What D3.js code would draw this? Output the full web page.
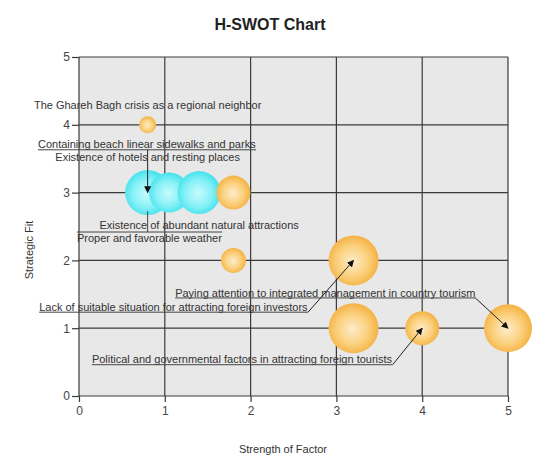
<!DOCTYPE html>
<html>
<head>
<meta charset="utf-8">
<script src="https://cdn.jsdelivr.net/npm/d3@7"></script>
<style>
  body { margin: 0; background: #fff; }
  text { font-family: "Liberation Sans", Arial, sans-serif; }
</style>
</head>
<body>
<div id="chart-area"></div>
<script>
// bubbles: strength of factor (x), strategic fit (y), bubble size, group
const strength = [0.8, 0.8, 1.05, 1.4, 1.8, 1.8, 3.2, 3.2, 4, 5]
const fit = [4, 3, 3, 3, 3, 2, 2, 1, 1, 1]
const bubbleSize = [1.7, 4.5, 4, 4.3, 3.4, 2.5, 5, 5, 3.4, 4.8]
const group = ["O", "S", "S", "S", "O", "O", "O", "O", "O", "O"]

// callout labels and the bubble each one points to
const labels = [
  "The Ghareh Bagh crisis as a regional neighbor",
  "Containing beach linear sidewalks and parks",
  "Existence of hotels and resting places",
  "Existence of abundant natural attractions",
  "Proper and favorable weather",
  "Paying attention to integrated management in country tourism",
  "Lack of suitable situation for attracting foreign investors",
  "Political and governmental factors in attracting foreign tourists"
]
const labelTarget = [0, 1, 1, 2, 1, 9, 6, 8]

const xTicks = [0, 1, 2, 3, 4, 5]
const yTicks = [0, 1, 2, 3, 4, 5]

// label layout (text centre in data units, underline offset in px, leader kind)
const labelPos = [
  { x: 0.80, y: 4.29, ul: null, lead: null },
  { x: 0.79, y: 3.72, ul: 6, lead: "down" },
  { x: 0.80, y: 3.53, ul: null, lead: null },
  { x: 1.40, y: 2.52, ul: null, lead: null },
  { x: 0.82, y: 2.33, ul: -6, lead: "up" },
  { x: 2.87, y: 1.52, ul: 5, lead: "right" },
  { x: 1.10, y: 1.31, ul: 5, lead: "right" },
  { x: 1.90, y: 0.55, ul: 6, lead: "right" }
]

const MARGIN = { LEFT: 79, RIGHT: 42, TOP: 57, BOTTOM: 66 }
const WIDTH = 550 - MARGIN.LEFT - MARGIN.RIGHT
const HEIGHT = 462 - MARGIN.TOP - MARGIN.BOTTOM

const svg = d3.select("#chart-area").append("svg")
  .attr("width", 550)
  .attr("height", 462)

const defs = svg.append("defs")
const grads = { O: ["#fdeccb", "#fbd07c", "#f4b244"], S: ["#c8fbfd", "#86f1f6", "#45e2ec"] }
Object.keys(grads).forEach(k => {
  const gr = defs.append("radialGradient").attr("id", "grad" + k)
    .attr("cx", "48%").attr("cy", "52%").attr("r", "52%")
  gr.append("stop").attr("offset", "0%").attr("stop-color", grads[k][0])
  gr.append("stop").attr("offset", "60%").attr("stop-color", grads[k][1])
  gr.append("stop").attr("offset", "100%").attr("stop-color", grads[k][2])
})
defs.append("marker").attr("id", "arrow")
  .attr("viewBox", "0 0 10 10").attr("refX", 9).attr("refY", 5)
  .attr("markerWidth", 7).attr("markerHeight", 7)
  .attr("markerUnits", "userSpaceOnUse")
  .attr("orient", "auto")
  .append("path").attr("d", "M0,0 L10,5 L0,10 Z").attr("fill", "#111")

// title
svg.append("text")
  .attr("x", 270).attr("y", 30)
  .attr("text-anchor", "middle")
  .attr("font-size", "16px").attr("font-weight", "bold")
  .attr("fill", "#222")
  .text("H-SWOT Chart")

const g = svg.append("g")
  .attr("transform", `translate(${MARGIN.LEFT}, ${MARGIN.TOP})`)

const x = d3.scaleLinear().domain([0, 5]).range([0, WIDTH])
const y = d3.scaleLinear().domain([0, 5]).range([HEIGHT, 0])
const r = d3.scaleLinear().domain([0, 5]).range([0, 25])

g.append("rect")
  .attr("width", WIDTH).attr("height", HEIGHT)
  .attr("fill", "#e8e8e8")

// grid
g.selectAll(".vgrid").data(xTicks).enter().append("line")
  .attr("x1", d => x(d)).attr("x2", d => x(d))
  .attr("y1", 0).attr("y2", HEIGHT)
  .attr("stroke", "#3a3a3a").attr("stroke-width", 1.2)
g.selectAll(".hgrid").data(yTicks).enter().append("line")
  .attr("y1", d => y(d)).attr("y2", d => y(d))
  .attr("x1", 0).attr("x2", WIDTH)
  .attr("stroke", "#3a3a3a").attr("stroke-width", 1.2)

// axes
const xAxisCall = d3.axisBottom(x).tickValues(xTicks).tickFormat(d3.format("d"))
  .tickSize(6).tickPadding(4)
const xAxisGroup = g.append("g")
  .attr("transform", `translate(0, ${HEIGHT})`)
  .call(xAxisCall)
const yAxisCall = d3.axisLeft(y).tickValues(yTicks).tickFormat(d3.format("d"))
  .tickSize(7).tickPadding(2)
const yAxisGroup = g.append("g").call(yAxisCall)
;[xAxisGroup, yAxisGroup].forEach(a => {
  a.select(".domain").remove()
  a.selectAll("line").attr("stroke", "#3a3a3a").attr("stroke-width", 1.2)
  a.selectAll("text").attr("font-size", "12px").attr("fill", "#444")
    .attr("font-family", "'Liberation Sans', Arial, sans-serif")
})

// axis labels
svg.append("text")
  .attr("x", 283).attr("y", 453)
  .attr("text-anchor", "middle")
  .attr("font-size", "11px").attr("fill", "#333")
  .text("Strength of Factor")
svg.append("text")
  .attr("transform", "translate(33, 250) rotate(-90)")
  .attr("text-anchor", "middle")
  .attr("font-size", "11px").attr("fill", "#333")
  .text("Strategic Fit")

// bubbles
const bubbles = strength.map((s, i) => ({ s, f: fit[i], size: bubbleSize[i], grp: group[i] }))
g.selectAll("circle.bubble").data(bubbles).enter().append("circle")
  .attr("class", "bubble")
  .attr("cx", d => x(d.s))
  .attr("cy", d => y(d.f))
  .attr("r", d => r(d.size))
  .attr("fill", d => `url(#grad${d.grp})`)

// callout labels
labels.forEach((txt, i) => {
  const p = labelPos[i]
  const t = bubbles[labelTarget[i]]
  const tx = x(t.s), ty = y(t.f)
  const lab = g.append("text")
    .attr("x", x(p.x)).attr("y", y(p.y))
    .attr("dy", "0.35em")
    .attr("text-anchor", "middle")
    .attr("font-size", "11px").attr("fill", "#333")
    .text(txt)
  if (p.ul === null) return
  const bb = lab.node().getBBox()
  const uy = y(p.y) + p.ul
  g.append("line")
    .attr("x1", bb.x).attr("x2", bb.x + bb.width)
    .attr("y1", uy).attr("y2", uy)
    .attr("stroke", "#444").attr("stroke-width", 1)
  if (p.lead === "right") {
    g.append("line")
      .attr("x1", bb.x + bb.width).attr("y1", uy)
      .attr("x2", tx).attr("y2", ty)
      .attr("stroke", "#222").attr("stroke-width", 1)
      .attr("marker-end", "url(#arrow)")
  } else if (p.lead === "down") {
    g.append("line")
      .attr("x1", tx).attr("y1", uy)
      .attr("x2", tx).attr("y2", ty)
      .attr("stroke", "#222").attr("stroke-width", 1)
      .attr("marker-end", "url(#arrow)")
  } else if (p.lead === "up") {
    g.append("line")
      .attr("x1", tx).attr("y1", uy)
      .attr("x2", tx).attr("y2", ty + r(t.size) - 4)
      .attr("stroke", "#444").attr("stroke-width", 1)
  }
})
</script>
</body>
</html>
